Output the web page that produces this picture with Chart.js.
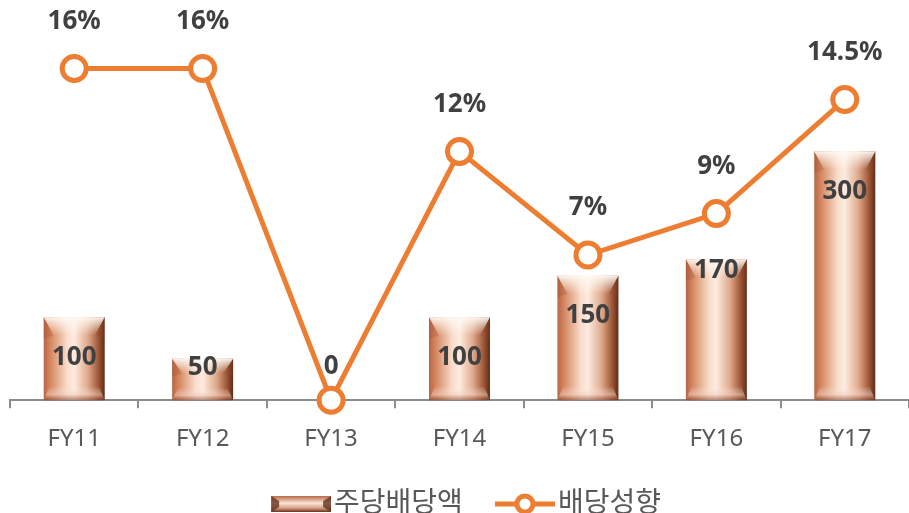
<!DOCTYPE html>
<html>
<head>
<meta charset="utf-8">
<script src="https://cdn.jsdelivr.net/npm/chart.js@4"></script>
<style>
  html, body { margin: 0; padding: 0; background: #fff; }
  #wrap { width: 909px; height: 513px; position: relative; }
</style>
</head>
<body>
<div id="wrap"><canvas id="divChart"></canvas></div>
<script>
// chart data
const categories = ['FY11', 'FY12', 'FY13', 'FY14', 'FY15', 'FY16', 'FY17'];
const dividendPerShare = [100, 50, 0, 100, 150, 170, 300];
const payoutRatio = [16, 16, 0, 12, 7, 9, 14.5];
const seriesNames = ['주당배당액', '배당성향'];

// where each bar value sits, measured down from the bar top
const barLabelOffsets = [40, 9, -34, 40, 40, 11, 40];

const ORANGE = '#ED7D31';
const FONT = "'Noto Sans', 'Noto Sans CJK KR', sans-serif";
const BAR_PCT = 0.475;

function barGradient(context) {
    const chart = context.chart;
    const xScale = chart.scales.x;
    if (!xScale || context.dataIndex === undefined) return '#d9906c';
    const w = xScale.width / categories.length * BAR_PCT;
    const cx = xScale.getPixelForValue(context.dataIndex);
    if (!isFinite(w) || !isFinite(cx) || w <= 0) return '#d9906c';
    const g = chart.ctx.createLinearGradient(cx - w / 2, 0, cx + w / 2, 0);
    g.addColorStop(0, '#b86641');
    g.addColorStop(0.12, '#d68a63');
    g.addColorStop(0.38, '#f9dccb');
    g.addColorStop(0.5, '#fdebe0');
    g.addColorStop(0.72, '#e0aa8c');
    g.addColorStop(0.9, '#9c5535');
    g.addColorStop(1, '#5e2c17');
    return g;
}

// bevel highlights on top of the library-drawn bars
const bevelPlugin = {
    id: 'bevel',
    afterDatasetDraw(chart, args) {
        if (args.index !== 0) return;
        const ctx = chart.ctx;
        args.meta.data.forEach(bar => {
            const p = bar.getProps(['x', 'y', 'base', 'width'], true);
            const h = p.base - p.y;
            if (h < 2) return;
            const l = p.x - p.width / 2, r = p.x + p.width / 2;
            const cap = Math.min(18, h * 0.35);
            const inset = Math.min(10, p.width * 0.16);
            ctx.save();
            // top cap glow
            let g = ctx.createLinearGradient(0, p.y, 0, p.y + cap);
            g.addColorStop(0, 'rgba(255,250,244,0.95)');
            g.addColorStop(1, 'rgba(255,250,244,0)');
            ctx.fillStyle = g;
            ctx.beginPath();
            ctx.moveTo(l, p.y);
            ctx.lineTo(r, p.y);
            ctx.lineTo(r - inset, p.y + cap);
            ctx.lineTo(l + inset, p.y + cap);
            ctx.closePath();
            ctx.fill();
            // darker corners of the cap
            ctx.fillStyle = 'rgba(150,70,40,0.22)';
            ctx.beginPath();
            ctx.moveTo(l, p.y); ctx.lineTo(l + inset, p.y + cap); ctx.lineTo(l, p.y + cap + 4); ctx.closePath(); ctx.fill();
            ctx.beginPath();
            ctx.moveTo(r, p.y); ctx.lineTo(r - inset, p.y + cap); ctx.lineTo(r, p.y + cap + 4); ctx.closePath(); ctx.fill();
            // bottom bevel
            const bot = Math.min(14, h * 0.3);
            g = ctx.createLinearGradient(0, p.base - bot, 0, p.base);
            g.addColorStop(0, 'rgba(255,240,232,0)');
            g.addColorStop(0.6, 'rgba(240,205,190,0.55)');
            g.addColorStop(1, 'rgba(120,55,30,0.55)');
            ctx.fillStyle = g;
            ctx.beginPath();
            ctx.moveTo(l + inset * 0.6, p.base - bot);
            ctx.lineTo(r - inset * 0.6, p.base - bot);
            ctx.lineTo(r, p.base);
            ctx.lineTo(l, p.base);
            ctx.closePath();
            ctx.fill();
            ctx.restore();
        });
    }
};

const valueLabelPlugin = {
    id: 'valueLabels',
    afterDatasetsDraw(chart) {
        const ctx = chart.ctx;
        ctx.save();
        ctx.font = 'bold 26px ' + FONT;
        ctx.fillStyle = '#404040';
        ctx.textAlign = 'center';
        ctx.textBaseline = 'middle';
        chart.getDatasetMeta(0).data.forEach((bar, i) => {
            ctx.fillText(String(dividendPerShare[i]), bar.x, bar.y + barLabelOffsets[i]);
        });
        chart.getDatasetMeta(1).data.forEach((pt, i) => {
            if (payoutRatio[i] === 0) return;
            ctx.fillText(payoutRatio[i] + '%', pt.x, pt.y - 47);
        });
        ctx.restore();
    }
};

// legend swatches: visible part sits at the right end of a wider transparent image
const SW_W = 84;
function makeBarSwatch() {
    const c = document.createElement('canvas');
    c.width = SW_W; c.height = 16;
    const x = c.getContext('2d');
    x.translate(SW_W - 60, 0);
    const g = x.createLinearGradient(0, 0, 0, 16);
    g.addColorStop(0, '#b96a45');
    g.addColorStop(0.45, '#fbe6d8');
    g.addColorStop(0.75, '#d9a084');
    g.addColorStop(1, '#6a321b');
    x.fillStyle = g;
    x.fillRect(0, 0, 60, 16);
    x.fillStyle = 'rgba(90,40,20,0.75)';
    x.beginPath(); x.moveTo(0, 0); x.lineTo(8, 5); x.lineTo(8, 11); x.lineTo(0, 16); x.closePath(); x.fill();
    x.beginPath(); x.moveTo(60, 0); x.lineTo(52, 5); x.lineTo(52, 11); x.lineTo(60, 16); x.closePath(); x.fill();
    return c;
}

function makeLineSwatch() {
    const c = document.createElement('canvas');
    c.width = SW_W; c.height = 26;
    const x = c.getContext('2d');
    x.translate(SW_W - 60, 0);
    x.strokeStyle = ORANGE;
    x.lineWidth = 5;
    x.beginPath(); x.moveTo(0, 13); x.lineTo(60, 13); x.stroke();
    x.fillStyle = '#fff';
    x.beginPath(); x.arc(30, 13, 8, 0, Math.PI * 2); x.fill(); x.stroke();
    return c;
}

const swatches = [makeBarSwatch(), makeLineSwatch()];

new Chart(document.getElementById('divChart'), {
    type: 'bar',
    data: {
        labels: categories,
        datasets: [{
            type: 'bar',
            label: seriesNames[0],
            data: dividendPerShare,
            backgroundColor: barGradient,
            borderWidth: 0,
            barPercentage: BAR_PCT,
            categoryPercentage: 1,
            yAxisID: 'y',
            order: 1
        }, {
            type: 'line',
            label: seriesNames[1],
            data: payoutRatio,
            borderColor: ORANGE,
            borderWidth: 5,
            pointRadius: 12,
            pointBorderWidth: 5,
            pointBackgroundColor: '#ffffff',
            pointBorderColor: ORANGE,
            tension: 0,
            clip: false,
            yAxisID: 'y1',
            order: 0
        }]
    },
    options: {
        responsive: true,
        maintainAspectRatio: false,
        animation: false,
        events: [],
        layout: { autoPadding: false, padding: { left: 10, right: 0, top: 27, bottom: -15 } },
        scales: {
            x: {
                grid: { offset: true, drawOnChartArea: false, color: '#8c8c8c', lineWidth: 2, tickLength: 8 },
                border: { color: '#8c8c8c', width: 2 },
                ticks: { color: '#595959', font: { size: 24, family: FONT }, padding: 17 }
            },
            y: { display: false, min: 0, max: 450 },
            y1: { display: false, min: 0, max: 18 }
        },
        plugins: {
            tooltip: { enabled: false },
            legend: {
                position: 'bottom',
                labels: {
                    usePointStyle: true,
                    pointStyleWidth: 62,
                    padding: 19,
                    color: '#595959',
                    font: { size: 28, family: FONT },
                    sort: (a, b) => a.datasetIndex - b.datasetIndex,
                    generateLabels: function(chart) {
                        const items = Chart.defaults.plugins.legend.labels.generateLabels(chart);
                        items.forEach(item => { item.pointStyle = swatches[item.datasetIndex]; });
                        return items;
                    }
                }
            }
        }
    },
    plugins: [bevelPlugin, valueLabelPlugin]
});
</script>
</body>
</html>
